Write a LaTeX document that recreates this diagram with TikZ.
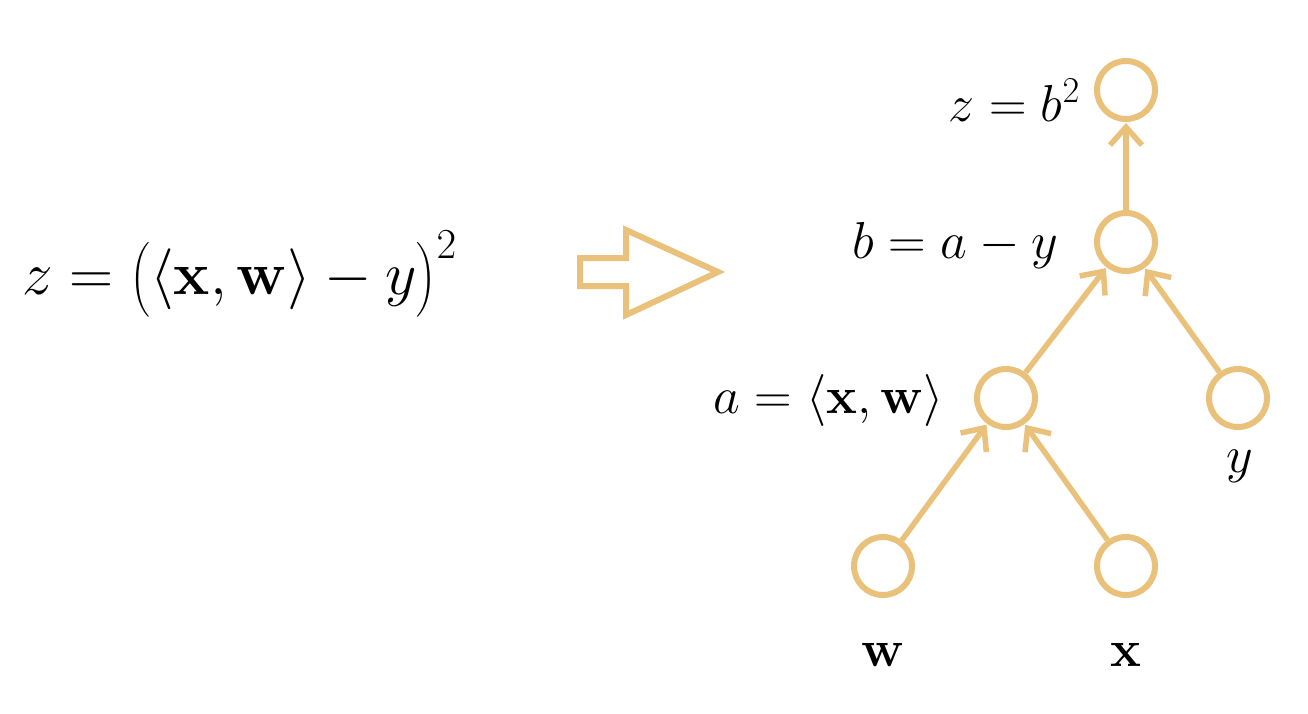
\RequirePackage{fix-cm}
\documentclass[tikz,border=0pt]{standalone}
\usepackage{amsmath}
\usetikzlibrary{arrows.meta}
\definecolor{gold}{RGB}{233,193,122}
\tikzset{
  nd/.style={circle,draw=gold,line width=6pt,minimum size=58pt,inner sep=0pt},
  ed/.style={draw=gold,line width=5.5pt,-{Straight Barb[length=18pt,width=32pt,line width=5.5pt]},shorten >=1pt},
  lbl/.style={inner sep=0pt,font=\fontsize{52}{62}\selectfont}
}
\begin{document}
\begin{tikzpicture}[x=1pt,y=-1pt]
\useasboundingbox (0,0) rectangle (1308,714);
\node[nd] (z) at (1126,90) {};
\node[nd] (b) at (1126,242) {};
\node[nd] (a) at (1006,398) {};
\node[nd] (y) at (1238,398) {};
\node[nd] (w) at (883,566) {};
\node[nd] (x) at (1126,566) {};
\draw[ed] (b) -- (z);
\draw[ed] (a) -- (b);
\draw[ed] (y) -- (b);
\draw[ed] (w) -- (a);
\draw[ed] (x) -- (a);
\node[lbl,anchor=east] (lz) at (1080,100) {$z = b^2$};
\node[lbl,anchor=east] (lb) at (1058,245) {$b = a - y$};
\node[lbl,anchor=east] (la) at (944,400) {$a = \langle \mathbf{x}, \mathbf{w}\rangle$};
\node[lbl] (ly) at (1240,466) {$y$};
\node[lbl] (lw) at (883,655) {$\mathbf{w}$};
\node[lbl] (lx) at (1126,655) {$\mathbf{x}$};
\node[lbl,anchor=west,font=\fontsize{61}{72}\selectfont] (f) at (22,274) {$z = \bigl(\langle \mathbf{x}, \mathbf{w}\rangle - y\bigr)^2$};
\draw[gold,line width=6pt,line join=miter] (580,258) coordinate (t1) -- (626,258) -- (626,230) -- (718,272) -- (626,315) -- (626,286) -- (580,286) -- cycle;
\end{tikzpicture}
\end{document}
